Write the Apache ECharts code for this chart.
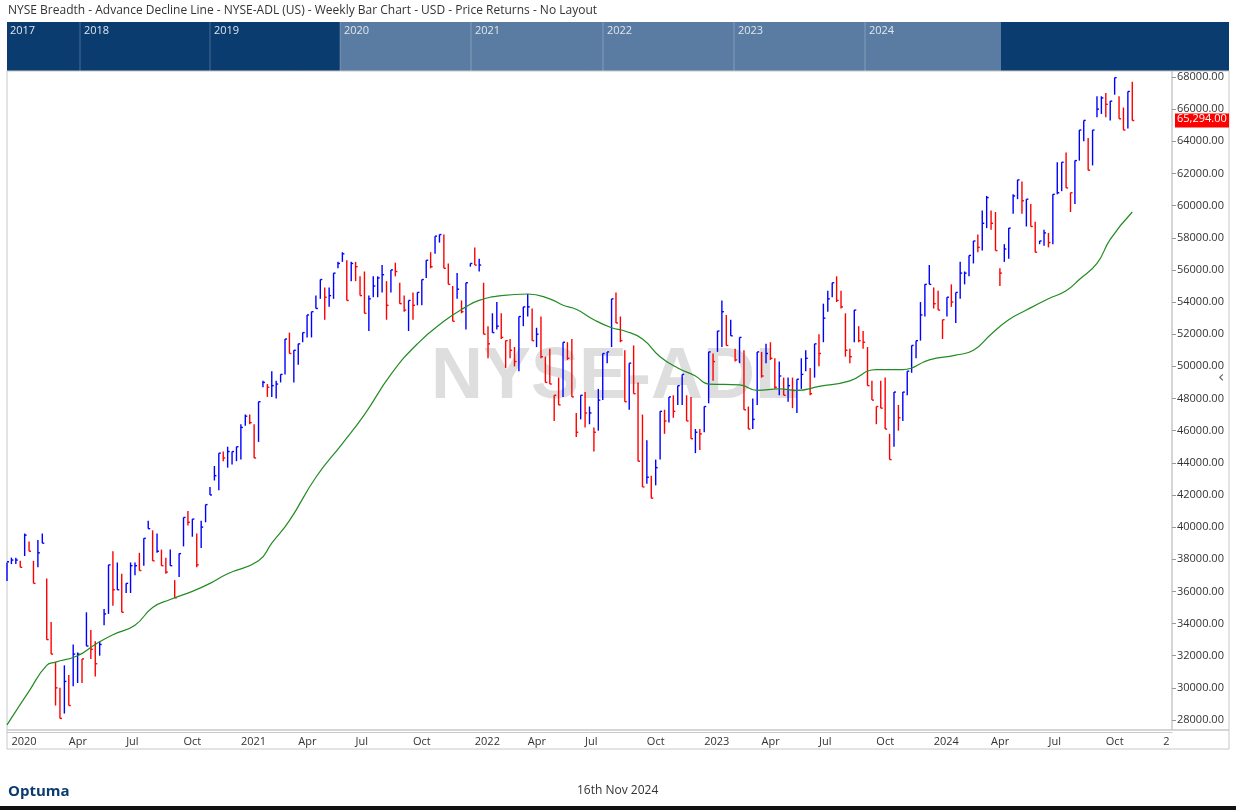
<!DOCTYPE html>
<html>
<head>
<meta charset="utf-8">
<script src="https://cdn.jsdelivr.net/npm/echarts@6/dist/echarts.min.js"></script>
<style>
  html, body { margin: 0; padding: 0; background: #fff; }
  #main { width: 1236px; height: 810px; }
</style>
</head>
<body>
<div id="main"></div>
<script>
// weekly bars, values in thousands
var highs = [
  37.8, 38.1, 38.1, 37.9, 39.6, 39.1, 37.9, 39.2, 39.6, 36.8,
  34.1, 31.6, 30.0, 31.4, 30.8, 32.7, 32.2, 31.8, 34.7, 33.6,
  32.9, 32.9, 34.9, 37.65, 38.5, 37.8, 37.1, 36.5, 37.8, 37.8,
  38.4, 39.3, 40.4, 39.8, 39.6, 38.6, 38.1, 38.6, 36.7, 38.35,
  40.6, 41.0, 40.5, 39.6, 40.4, 41.4, 42.5, 43.8, 44.6, 44.7,
  45.0, 44.7, 45.0, 46.4, 47.0, 47.0, 46.4, 47.8, 49.1, 48.9,
  49.7, 49.1, 49.5, 51.7, 52.1, 51.0, 51.4, 52.1, 53.2, 53.4,
  54.4, 55.4, 54.9, 54.9, 55.8, 56.5, 57.1, 56.6, 56.5, 56.5,
  55.6, 55.9, 54.4, 55.6, 55.6, 56.3, 55.3, 56.0, 56.45, 55.2,
  54.4, 54.1, 54.6, 54.6, 55.4, 56.6, 57.1, 58.1, 58.2, 58.2,
  56.4, 55.0, 55.8, 54.1, 55.2, 56.4, 57.4, 56.7, 55.2, 52.5,
  53.3, 54.0, 53.3, 51.6, 51.7, 51.2, 53.1, 53.7, 54.5, 53.6,
  52.4, 53.1, 50.6, 51.1, 48.2, 49.3, 51.5, 51.5, 51.7, 47.1,
  48.2, 48.4, 47.5, 46.2, 48.6, 50.8, 50.9, 54.2, 54.6, 53.1,
  51.0, 50.2, 51.3, 49.0, 47.0, 45.4, 43.2, 44.2, 47.2, 47.3,
  48.1, 48.2, 48.8, 49.5, 48.2, 48.1, 46.1, 46.1, 47.5, 50.9,
  50.8, 52.2, 54.1, 53.2, 52.9, 51.1, 51.8, 51.0, 47.5, 48.0,
  50.9, 50.9, 51.4, 51.5, 50.5, 50.3, 49.3, 49.3, 49.3, 49.2,
  50.5, 51.0, 49.9, 51.4, 52.0, 53.9, 54.7, 55.2, 55.6, 54.7,
  53.3, 51.1, 53.5, 52.5, 52.2, 51.2, 49.1, 47.5, 49.1, 49.3,
  45.8, 48.4, 47.6, 48.4, 49.7, 51.3, 51.6, 54.0, 55.1, 56.3,
  54.9, 54.7, 52.9, 54.3, 55.1, 54.6, 56.5, 55.9, 56.9, 57.8,
  58.2, 59.7, 60.6, 59.7, 59.6, 56.1, 57.6, 58.6, 60.7, 61.6,
  61.5, 60.4, 60.1, 59.0, 57.8, 58.5, 58.3, 60.7, 62.7, 62.7,
  63.3, 60.8, 62.8, 64.7, 65.3, 64.2, 64.7, 66.8, 66.8, 67.0,
  66.5, 67.96, 66.8, 66.1, 67.1, 67.7
];
var lows = [
  36.65, 37.7, 37.7, 37.5, 38.2, 38.5, 36.5, 37.5, 39.0, 33.0,
  32.1, 28.9, 28.1, 28.4, 28.9, 30.1, 30.3, 30.3, 32.6, 31.8,
  30.7, 32.0, 33.9, 34.6, 35.1, 36.1, 34.7, 35.9, 35.9, 37.0,
  37.3, 37.6, 39.9, 37.9, 38.4, 37.6, 37.1, 37.6, 35.6, 36.9,
  38.8, 40.1, 39.4, 37.5, 38.7, 40.3, 42.0, 42.9, 42.3, 44.1,
  43.7, 43.9, 44.1, 44.2, 46.3, 46.4, 44.3, 45.3, 48.7, 48.1,
  48.1, 48.0, 49.0, 49.5, 50.8, 49.0, 50.1, 51.5, 51.8, 51.8,
  53.6, 54.2, 52.9, 53.7, 54.2, 56.1, 56.5, 54.1, 55.3, 55.3,
  54.4, 53.3, 52.2, 54.3, 54.3, 54.6, 52.9, 54.6, 55.6, 53.9,
  53.4, 52.2, 52.9, 53.8, 53.8, 55.5, 56.1, 57.0, 57.7, 56.1,
  55.1, 52.8, 54.2, 53.3, 52.3, 56.2, 56.3, 55.9, 52.0, 50.5,
  52.1, 52.3, 51.7, 49.9, 50.5, 50.0, 49.7, 52.5, 53.1, 51.6,
  51.2, 50.5, 49.0, 48.9, 46.6, 47.6, 48.1, 50.4, 48.1, 45.6,
  46.7, 46.2, 46.4, 44.7, 46.0, 47.9, 50.2, 51.2, 52.7, 51.5,
  47.8, 47.3, 48.3, 44.1, 42.5, 42.7, 41.8, 42.6, 44.2, 45.8,
  46.5, 46.8, 47.6, 47.6, 46.6, 45.5, 44.6, 44.8, 45.9, 47.7,
  49.1, 50.9, 51.2, 51.3, 51.9, 50.3, 50.2, 47.3, 46.1, 46.1,
  47.6, 49.3, 50.2, 50.4, 48.6, 48.2, 48.2, 47.8, 47.4, 47.1,
  48.6, 49.7, 48.2, 49.3, 50.0, 51.5, 53.4, 54.3, 54.0, 53.6,
  50.6, 50.2, 51.5, 51.5, 51.1, 48.8, 47.9, 46.4, 47.4, 46.1,
  44.2, 45.0, 46.0, 46.6, 48.2, 49.6, 50.5, 51.6, 53.1, 55.1,
  53.6, 53.5, 51.7, 53.1, 53.7, 52.7, 54.2, 55.1, 55.6, 56.4,
  57.1, 57.2, 58.6, 58.5, 57.2, 55.0, 56.5, 56.7, 59.5, 60.4,
  59.5, 58.7, 58.7, 57.1, 57.6, 57.5, 57.4, 57.6, 60.7, 60.9,
  61.1, 59.6, 60.1, 62.8, 64.0, 62.2, 62.5, 65.5, 65.7, 65.5,
  65.3, 66.9, 65.4, 64.7, 64.8, 65.3
];
var closes = [
  37.84, 37.95, 37.95, 37.5, 39.5, 38.5, 36.5, 38.4, 39.0, 33.0,
  32.1, 30.0, 28.1, 30.4, 28.9, 32.1, 32.1, 31.8, 32.6, 32.4,
  31.5, 32.7, 34.6, 37.65, 36.1, 36.1, 34.7, 36.5, 37.6, 37.6,
  37.3, 39.3, 39.9, 37.9, 38.5, 37.6, 37.2, 37.6, 35.6, 38.35,
  40.6, 40.3, 40.5, 37.65, 40.0, 41.4, 42.0, 43.2, 44.6, 44.3,
  44.7, 44.7, 45.0, 46.2, 46.9, 46.5, 44.3, 47.8, 49.0, 48.7,
  48.8, 48.9, 49.5, 51.7, 50.8, 51.0, 51.4, 52.1, 53.2, 53.4,
  53.6, 55.4, 54.3, 54.4, 55.8, 56.4, 57.0, 54.1, 56.4, 56.2,
  54.4, 53.3, 54.2, 55.0, 55.5, 55.7, 53.8, 56.0, 55.9, 53.9,
  53.5, 54.1, 53.8, 54.6, 55.4, 56.6, 56.2, 58.1, 58.2, 56.1,
  55.1, 52.8, 54.8, 53.4, 55.2, 56.4, 56.3, 56.3, 52.0, 51.4,
  52.1, 52.5, 51.8, 51.6, 51.0, 50.3, 53.1, 53.7, 53.7, 51.6,
  52.0, 50.6, 49.0, 48.9, 48.2, 47.6, 51.5, 50.5, 48.1, 45.9,
  48.2, 47.1, 47.1, 45.9, 47.9, 50.8, 50.9, 54.2, 52.7, 51.6,
  47.8, 50.2, 48.3, 44.1, 42.5, 43.1, 41.8, 43.7, 47.2, 46.6,
  48.1, 47.2, 48.8, 49.5, 46.6, 45.5, 45.9, 45.8, 47.5, 50.9,
  50.3, 52.2, 53.4, 51.3, 51.9, 50.4, 51.8, 47.3, 46.1, 46.7,
  50.9, 49.4, 50.8, 50.5, 48.7, 49.4, 48.2, 48.8, 48.5, 49.2,
  49.5, 50.5, 48.3, 51.4, 50.8, 53.0, 54.2, 55.2, 54.1, 53.7,
  51.0, 50.6, 53.5, 51.6, 51.5, 48.8, 47.9, 47.5, 47.4, 46.1,
  44.2, 48.4, 46.8, 48.4, 49.7, 51.3, 51.6, 53.2, 55.1, 55.1,
  53.9, 53.5, 52.9, 54.3, 54.0, 54.6, 55.8, 55.8, 56.9, 57.8,
  57.4, 58.9, 60.5, 58.9, 57.2, 55.8, 57.3, 58.6, 60.6, 61.6,
  60.3, 60.4, 58.7, 57.1, 57.8, 58.3, 57.7, 60.7, 60.8, 62.7,
  61.1, 60.8, 62.8, 64.7, 65.3, 62.2, 64.7, 66.0, 66.7, 66.3,
  66.5, 67.96, 65.4, 64.7, 67.1, 65.294
];
// moving average, [week index, value in thousands]
var maPoints = [
  [0, 27.7], [5, 29.8], [9, 31.4], [11, 31.6], [16, 32.0], [20, 32.7], [24, 33.3],
  [29, 33.9], [33, 35.0], [37, 35.5], [42, 36.0], [46, 36.5], [50, 37.1], [57, 37.9],
  [60, 39.0], [64, 40.4], [70, 43.1], [76, 45.2], [81, 47.0], [87, 49.5], [93, 51.4],
  [99, 52.8], [104, 53.7], [107, 54.1], [112, 54.4], [118, 54.5], [123, 54.2],
  [126, 53.8], [129, 53.55], [133, 52.9], [137, 52.4], [140, 52.2], [144, 51.7],
  [148, 50.6], [152, 49.9], [156, 49.4], [159, 48.9], [166, 48.85], [170, 48.5],
  [175, 48.6], [179, 48.5], [184, 48.75], [191, 49.1], [197, 49.8], [203, 49.8],
  [209, 50.4], [215, 50.7], [219, 51.0], [223, 52.0], [227, 52.9], [231, 53.5],
  [236, 54.2], [240, 54.7], [243, 55.4], [247, 56.4], [250, 57.9], [255, 59.6]
];
var yTicks = [28, 68];
var navYears = ['2017', '2018', '2019', '2020', '2021', '2022', '2023', '2024'];
var navYearX = [10, 84, 214, 344, 475, 607, 738, 869];
var lastPrice = '65,294.00';

var monthNames = ['Jan','Feb','Mar','Apr','May','Jun','Jul','Aug','Sep','Oct','Nov','Dec'];
var nCats = 265;
var start = Date.UTC(2019, 11, 27);
var cats = [];
for (var i = 0; i < nCats; i++) cats.push(new Date(start + i * 7 * 86400000));

function isLabel(i) {
  if (i === 0) return false;
  var m = cats[i].getUTCMonth();
  return m !== cats[i - 1].getUTCMonth() && m % 3 === 0;
}

var bars = [];
for (var i = 0; i < closes.length; i++) {
  var up = i === 0 ? true : closes[i] >= closes[i - 1];
  bars.push([i, highs[i], lows[i], closes[i], up ? 1 : 0]);
}

var chart = echarts.init(document.getElementById('main'));

chart.setOption({
  backgroundColor: '#fff',
  animation: false,
  grid: { left: 7, right: 64, top: 77, bottom: 90 },
  xAxis: {
    type: 'category',
    data: cats.map(function (d) { return d.toISOString().slice(0, 10); }),
    boundaryGap: false,
    offset: 12,
    axisLine: { lineStyle: { color: '#c8c8c8' } },
    axisTick: { show: false },
    axisLabel: {
      interval: function (i) { return isLabel(i); },
      formatter: function (v, i) {
        var d = cats[i];
        if (d.getUTCMonth() === 0) return d.getUTCFullYear() >= 2025 ? '2' : String(d.getUTCFullYear());
        return monthNames[d.getUTCMonth()];
      },
      align: 'left',
      margin: 4,
      color: '#333',
      fontSize: 11,
      fontFamily: 'Open Sans'
    },
    splitLine: { show: false }
  },
  yAxis: {
    type: 'value',
    position: 'right',
    min: yTicks[0],
    max: yTicks[1],
    interval: 2,
    axisLine: { show: false },
    axisTick: { show: true, length: 4, lineStyle: { color: '#999' } },
    axisLabel: {
      color: '#333', fontSize: 11, fontFamily: 'Open Sans', margin: 5,
      formatter: function (v) { return (v * 1000).toFixed(2); }
    },
    splitLine: { show: false }
  },
  series: [{
    type: 'custom',
    clip: false,
    z: 5,
    data: bars,
    encode: { x: 0, y: [1, 2] },
    renderItem: function (params, api) {
      var x = api.coord([api.value(0), api.value(1)])[0];
      var yh = api.coord([api.value(0), api.value(1)])[1];
      var yl = api.coord([api.value(0), api.value(2)])[1];
      var yc = api.coord([api.value(0), api.value(3)])[1];
      var col = api.value(4) ? '#0000ff' : '#ff0000';
      var st = { stroke: col, lineWidth: 1.4 };
      return {
        type: 'group',
        children: [
          { type: 'line', shape: { x1: x, y1: yh, x2: x, y2: yl }, style: st },
          { type: 'line', shape: { x1: x, y1: yc, x2: x + 2, y2: yc }, style: st }
        ]
      };
    }
  }, {
    type: 'line',
    z: 5,
    data: maPoints,
    smooth: true,
    showSymbol: false,
    clip: false,
    lineStyle: { color: '#228b22', width: 1.2 }
  }],
  graphic: [
    { type: 'text', z: 0, x: 615, y: 378, style: { text: 'NYSE-ADL', font: 'bold 72px "Liberation Sans"', fill: '#dedede', textAlign: 'center', textVerticalAlign: 'middle' } },
    { type: 'text', left: 8, top: 5, style: { text: 'NYSE Breadth - Advance Decline Line - NYSE-ADL (US) - Weekly Bar Chart - USD - Price Returns - No Layout', font: '12px "Open Sans"', fill: '#333' } },
    { type: 'rect', shape: { x: 7, y: 22, width: 1222, height: 49 }, style: { fill: '#0b3c70' } },
    { type: 'rect', shape: { x: 340, y: 22, width: 661, height: 49 }, style: { fill: '#5a7ca3' } },
    { type: 'rect', shape: { x: 7, y: 71, width: 1165, height: 659 }, style: { fill: 'none', stroke: '#c8c8c8' } },
    { type: 'rect', shape: { x: 7, y: 730, width: 1222, height: 19 }, style: { fill: 'none', stroke: '#c8c8c8' } },
    { type: 'rect', shape: { x: 1172, y: 71, width: 57, height: 659 }, style: { fill: 'none', stroke: '#c8c8c8' } },
    { type: 'text', left: 1218, top: 370, style: { text: '\u2039', font: '16px "DejaVu Sans"', fill: '#666' } },
    { type: 'text', left: 8, top: 784, style: { text: 'Optuma', font: 'bold 15px "Open Sans"', fill: '#0b3c70' } },
    { type: 'text', left: 577, top: 785, style: { text: '16th Nov 2024', font: '12px "Open Sans"', fill: '#333' } },
    { type: 'rect', shape: { x: 0, y: 806, width: 1236, height: 4 }, style: { fill: '#111' } }
  ].concat(navYears.map(function (y, k) {
    return { type: 'group', children: [
      { type: 'line', shape: { x1: navYearX[k] - 4, y1: 22, x2: navYearX[k] - 4, y2: 71 }, style: { stroke: 'rgba(255,255,255,0.25)' } },
      { type: 'text', x: navYearX[k], y: 25, style: { text: y, font: '11px "Open Sans"', fill: '#e0e6ee' } }
    ] };
  }))
});

var py = chart.convertToPixel({ seriesIndex: 0 }, [0, closes[closes.length - 1]])[1];
chart.setOption({
  graphic: chart.getOption().graphic[0].elements.concat([
    { type: 'rect', shape: { x: 1175, y: py - 7, width: 54, height: 14 }, style: { fill: '#ff0000' } },
    { type: 'text', x: 1177, y: py - 7, style: { text: lastPrice, font: '11px "Open Sans"', fill: '#fff' } }
  ])
});
</script>
</body>
</html>
